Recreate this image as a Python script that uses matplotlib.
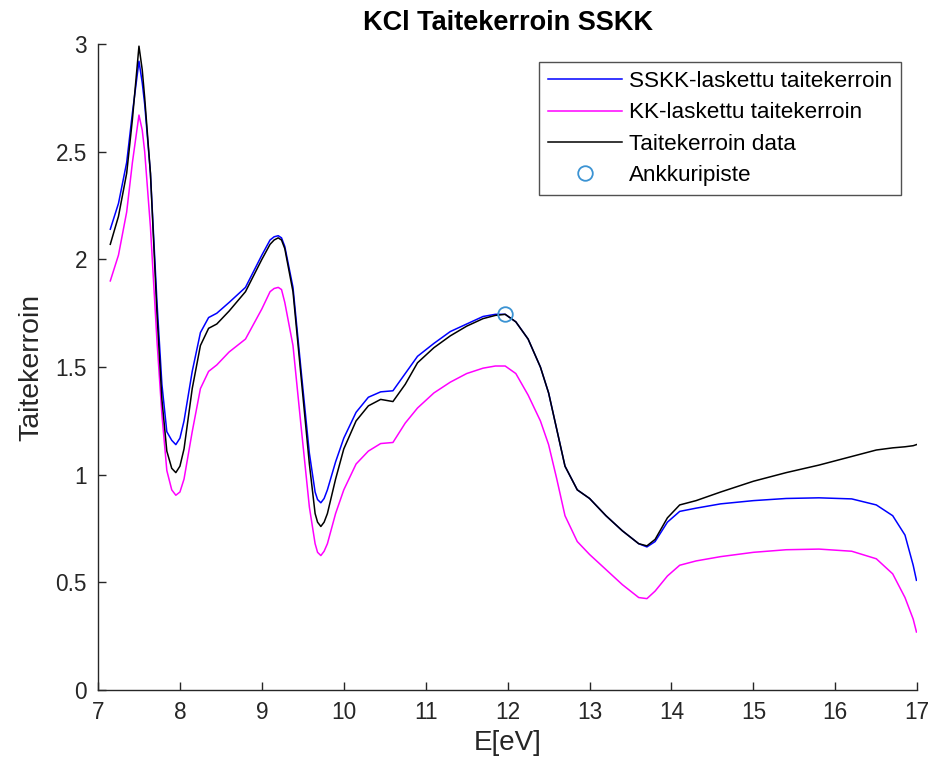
import matplotlib
matplotlib.use("Agg")
import matplotlib.pyplot as plt

plt.rcParams['font.family'] = ['Liberation Sans', 'DejaVu Sans']

energy = [7.15, 7.25, 7.35, 7.42, 7.46, 7.5, 7.54, 7.57, 7.64, 7.72, 7.78, 7.84,
          7.9, 7.95, 8.0, 8.05, 8.15, 8.25, 8.35, 8.45, 8.6, 8.8, 9.0, 9.1, 9.15,
          9.2, 9.24, 9.28, 9.38, 9.48, 9.58, 9.65, 9.68, 9.72, 9.76, 9.8, 9.9, 10.0,
          10.15, 10.3, 10.45, 10.6, 10.75, 10.9, 11.1, 11.3, 11.5, 11.7, 11.85,
          11.97, 12.1, 12.25, 12.4, 12.5, 12.6, 12.7, 12.85, 13.0, 13.2, 13.4,
          13.6, 13.7, 13.8, 13.95, 14.1, 14.3, 14.6, 15.0, 15.4, 15.8, 16.2, 16.5,
          16.7, 16.85, 16.95, 16.99]

n_sskk = [2.14, 2.26, 2.45, 2.68, 2.80, 2.92, 2.82, 2.72, 2.40, 1.80, 1.42, 1.20,
          1.16, 1.14, 1.17, 1.25, 1.48, 1.66, 1.73, 1.75, 1.80, 1.87, 2.02, 2.09, 2.105,
          2.11, 2.10, 2.06, 1.87, 1.48, 1.10, 0.92, 0.885, 0.87, 0.89, 0.93, 1.06, 1.17,
          1.29, 1.36, 1.385, 1.39, 1.47, 1.55, 1.61, 1.665, 1.70, 1.735, 1.745,
          1.745, 1.71, 1.63, 1.50, 1.38, 1.21, 1.04, 0.93, 0.89, 0.81, 0.74,
          0.68, 0.665, 0.69, 0.78, 0.83, 0.845, 0.865, 0.88, 0.89, 0.893, 0.888, 0.86,
          0.81, 0.72, 0.58, 0.51]

n_kk = [1.90, 2.02, 2.22, 2.45, 2.56, 2.67, 2.60, 2.50, 2.15, 1.62, 1.28, 1.02,
        0.93, 0.905, 0.92, 0.98, 1.20, 1.40, 1.48, 1.51, 1.57, 1.63, 1.77, 1.85, 1.865,
        1.87, 1.86, 1.80, 1.60, 1.22, 0.85, 0.68, 0.64, 0.625, 0.645, 0.68, 0.82, 0.93,
        1.05, 1.11, 1.145, 1.15, 1.24, 1.31, 1.38, 1.43, 1.47, 1.495, 1.505,
        1.505, 1.47, 1.37, 1.25, 1.14, 0.98, 0.81, 0.69, 0.63, 0.56, 0.49,
        0.43, 0.425, 0.46, 0.53, 0.58, 0.60, 0.62, 0.64, 0.652, 0.655, 0.645, 0.61,
        0.54, 0.43, 0.33, 0.27]

n_data = [2.07, 2.20, 2.40, 2.65, 2.82, 2.99, 2.88, 2.75, 2.40, 1.75, 1.35, 1.11,
          1.03, 1.01, 1.04, 1.12, 1.40, 1.60, 1.68, 1.70, 1.76, 1.85, 2.00, 2.07, 2.09,
          2.10, 2.09, 2.05, 1.85, 1.45, 1.05, 0.82, 0.78, 0.76, 0.78, 0.82, 0.98, 1.12,
          1.25, 1.32, 1.35, 1.34, 1.42, 1.52, 1.59, 1.645, 1.69, 1.725, 1.74,
          1.745, 1.71, 1.63, 1.50, 1.38, 1.21, 1.04, 0.93, 0.89, 0.81, 0.74,
          0.68, 0.67, 0.70, 0.80, 0.86, 0.88, 0.92, 0.97, 1.01, 1.045, 1.085, 1.115,
          1.125, 1.13, 1.135, 1.14]

anchor_x = [11.97]
anchor_y = [1.745]

labels = ['SSKK-laskettu taitekerroin', 'KK-laskettu taitekerroin',
          'Taitekerroin data', 'Ankkuripiste']

fig = plt.figure(figsize=(9.36, 7.72), dpi=100)
ax = fig.add_axes([0.1047, 0.106, 0.8753, 0.837])

ax.plot(energy, n_sskk, color='#0000ff', lw=1.1, label=labels[0])
ax.plot(energy, n_kk, color='#ff00ff', lw=1.1, label=labels[1])
ax.plot(energy, n_data, color='black', lw=1.1, label=labels[2])
ax.plot(anchor_x, anchor_y, 'o', mfc='none', mec='#3b93d3', mew=1.3, ms=10.5,
        label=labels[3])

ax.set_xlim(7, 17)
ax.set_ylim(0, 3)
ax.set_xticks(range(7, 18))
ax.set_yticks([0, 0.5, 1, 1.5, 2, 2.5, 3])
ax.set_yticklabels(['0', '0.5', '1', '1.5', '2', '2.5', '3'])

for s in ['top', 'right']:
    ax.spines[s].set_visible(False)
for s in ['left', 'bottom']:
    ax.spines[s].set_color('#262626')
    ax.spines[s].set_linewidth(1.0)
ax.tick_params(direction='in', length=6, width=1.0, colors='#262626',
               labelsize=16.3, pad=8)

ax.set_xlabel('E[eV]', fontsize=20, color='#262626', labelpad=4)
ax.set_ylabel('Taitekerroin', fontsize=20.5, color='#262626', labelpad=8)
ax.set_title('KCl Taitekerroin SSKK', fontsize=19.5, fontweight='bold', pad=10)

leg = ax.legend(loc='upper right', bbox_to_anchor=(0.994, 0.989), fontsize=16.2,
                frameon=True, fancybox=False, edgecolor='#262626',
                handlelength=3.3, handletextpad=0.3, labelspacing=0.45,
                borderpad=0.4)
leg.get_frame().set_linewidth(1.0)

fig.savefig('out.png', dpi=100)
